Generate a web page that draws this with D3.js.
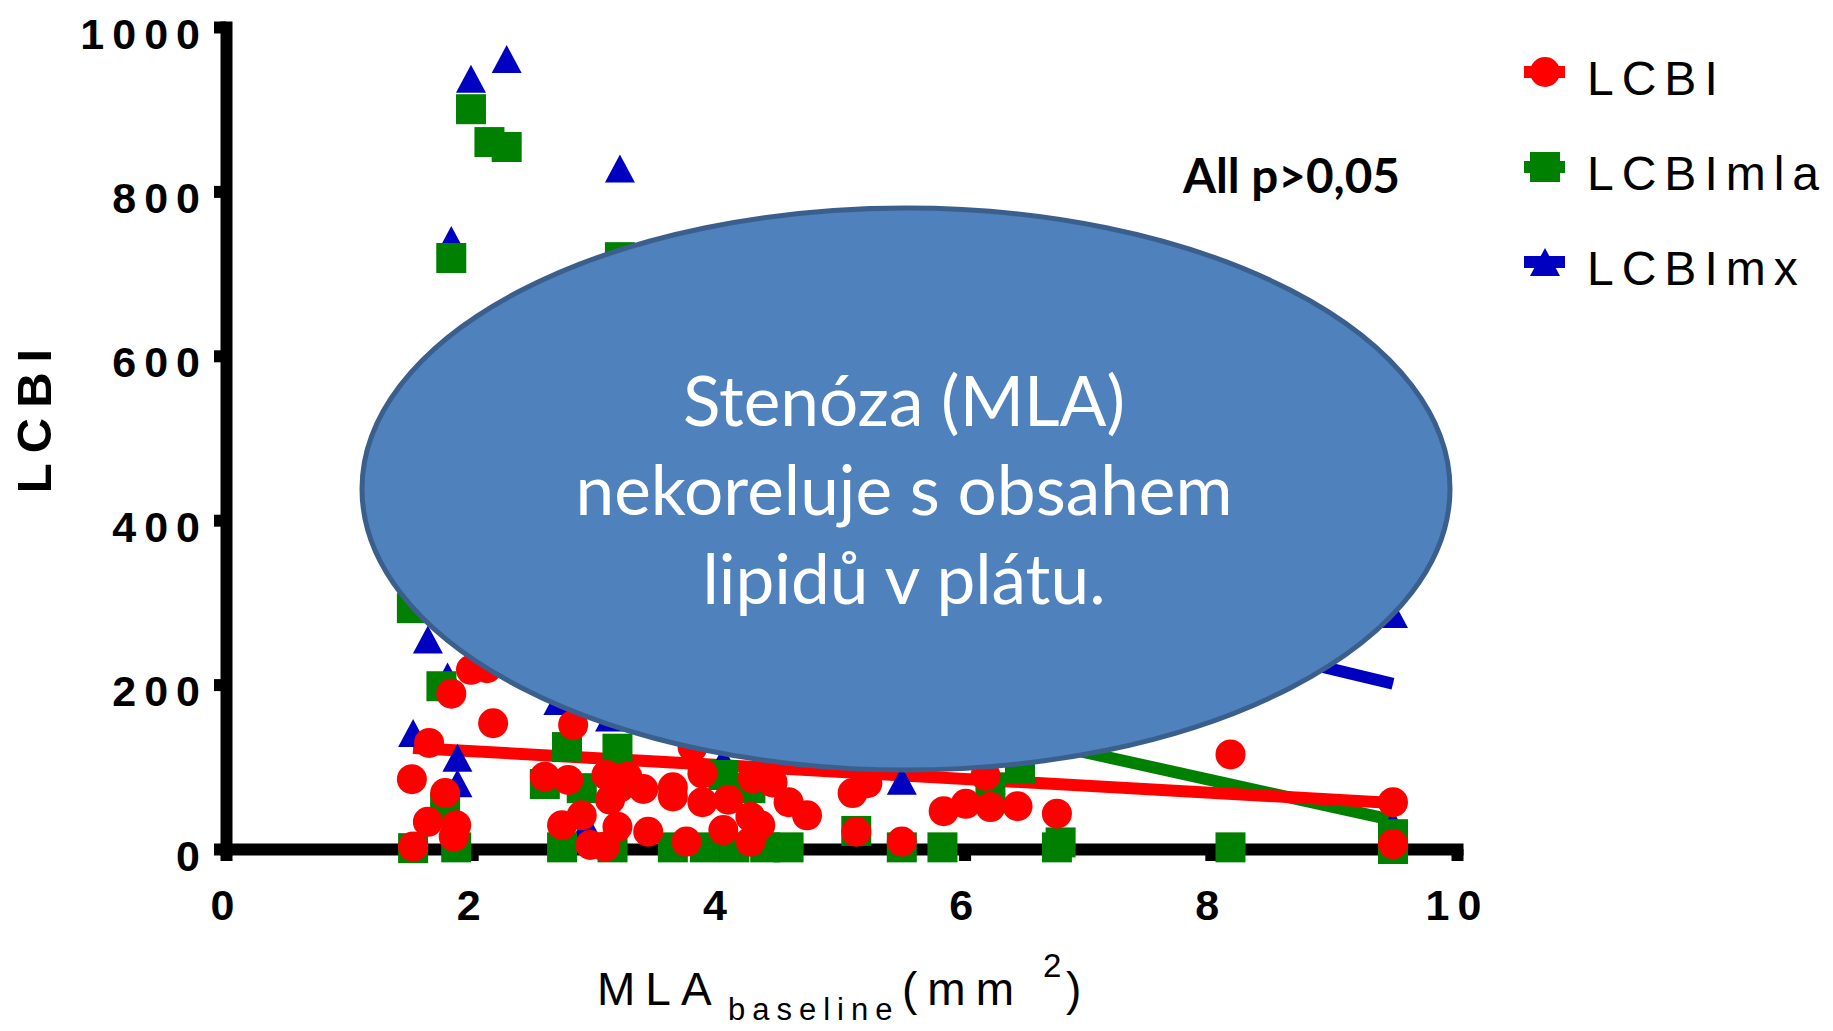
<!DOCTYPE html>
<html>
<head>
<meta charset="utf-8">
<script src="https://cdn.jsdelivr.net/npm/d3@7"></script>
<style>
  body { margin: 0; background: #fff; }
  svg { display: block; }
</style>
</head>
<body>
<svg id="chart" width="1833" height="1031"></svg>
<script>
// ---- data ----
const xTicks = [0, 2, 4, 6, 8, 10];
const yTicks = [0, 200, 400, 600, 800, 1000];
const seriesNames = ["LCBI", "LCBImla", "LCBImx"];
const seriesColors = ["#ff0000", "#008000", "#0000c0"];

// LCBI (red circles)
const lcbi = [
  [1.52, 3], [1.51, 85], [1.65, 129], [1.64, 33], [1.78, 68], [1.85, 15], [1.87, 29],
  [1.83, 189], [1.99, 218], [2.12, 220], [2.17, 153],
  [2.82, 151], [2.59, 88], [2.78, 84], [3.09, 90], [3.26, 88], [3.39, 73], [3.12, 60],
  [2.89, 41], [2.73, 29], [3.18, 27], [2.96, 5], [3.08, 3], [3.43, 21], [3.2, 75],
  [3.79, 124], [3.63, 75], [3.63, 64], [3.87, 92], [3.87, 57], [4.08, 60], [4.28, 86],
  [4.44, 81], [4.57, 57], [4.72, 41], [4.04, 23], [4.26, 39], [4.34, 29], [4.26, 9], [3.74, 9],
  [5.09, 68], [5.21, 80], [5.12, 21],
  [5.49, 9], [5.83, 46], [6.01, 55], [6.21, 51], [6.43, 52], [6.17, 89], [6.75, 43],
  [8.16, 115], [9.48, 57], [9.48, 6]
];
// LCBImla (green squares)
const lcbiMla = [
  [1.99, 900], [2.14, 860], [2.28, 854], [3.2, 720], [1.83, 719], [1.51, 293], [1.75, 198],
  [1.78, 50], [1.52, 1], [1.87, 2],
  [2.77, 124], [3.18, 122], [2.59, 79], [2.89, 74], [2.73, 2], [3.14, 2],
  [4.04, 90], [4.26, 74], [3.63, 2], [3.89, 2], [4.13, 2], [4.38, 2], [4.57, 2], [5.12, 22],
  [5.49, 2], [5.82, 2], [6.21, 75], [6.45, 98], [6.75, 2], [6.78, 8], [8.16, 2],
  [9.48, 18], [9.48, 0]
];
// LCBImx (blue triangles)
const lcbiMx = [
  [2.28, 961], [1.99, 937], [3.2, 828], [1.83, 741], [1.64, 255], [1.52, 141], [1.88, 111],
  [1.88, 80], [1.8, 210], [2.7, 180], [3.12, 160], [2.93, 28], [4.04, 108], [5.49, 83],
  [9.48, 286], [9.48, 30]
];

// linear fits, value at each end of fitX
const fitX = [1.52, 9.48];
const fitLcbi = [123, 56];
const fitMla = [298, 35];
const fitMx = [487, 201];

const noteLines = ["Stenóza (MLA)", "nekoreluje s obsahem", "lipidů v plátu."];
const pNote = "All p>0,05";

// ---- drawing ----
const svg = d3.select("#chart");
const arial = "'Liberation Sans', Arial, sans-serif";
const calib = "Lato, 'Open Sans', sans-serif";

svg.append("rect").attr("width", 1833).attr("height", 1031).attr("fill", "#fff");

const x = d3.scaleLinear().domain([0, 10]).range([226, 1457]);
const y = d3.scaleLinear().domain([0, 1000]).range([849, 27]);

// axes
const yAxis = svg.append("g")
  .attr("transform", "translate(" + x(0) + ",0)")
  .call(d3.axisLeft(y).tickValues(yTicks).tickFormat(d3.format("d"))
    .tickSizeInner(12).tickSizeOuter(0).tickPadding(6));
const xAxis = svg.append("g")
  .attr("transform", "translate(0," + y(0) + ")")
  .call(d3.axisBottom(x).tickValues(xTicks).tickFormat(d3.format("d"))
    .tickSizeInner(12).tickSizeOuter(0).tickPadding(28));

[yAxis, xAxis].forEach(function(ax) {
  ax.select(".domain").attr("stroke", "#000").attr("stroke-width", 12).attr("stroke-linecap", "square");
  ax.selectAll(".tick line").attr("stroke", "#000").attr("stroke-width", 12);
  ax.selectAll(".tick text")
    .attr("fill", "#000")
    .attr("font-family", arial)
    .attr("font-weight", "bold")
    .attr("font-size", 43)
    .attr("letter-spacing", 8);
});
yAxis.selectAll(".tick text").attr("dy", "0.49em").attr("x", -18);

// axis titles
svg.append("text")
  .attr("transform", "translate(51,416) rotate(-90)")
  .attr("text-anchor", "middle")
  .attr("font-family", arial)
  .attr("font-weight", "bold")
  .attr("font-size", 49)
  .attr("letter-spacing", 10)
  .text("LCBI");

const xt = svg.append("text").attr("font-family", arial).attr("fill", "#000");
xt.append("tspan").attr("x", 597).attr("y", 1005).attr("font-size", 46).attr("letter-spacing", 10).text("MLA");
xt.append("tspan").attr("x", 728).attr("y", 1020).attr("font-size", 31).attr("letter-spacing", 7).text("baseline");
xt.append("tspan").attr("x", 902).attr("y", 1005).attr("font-size", 46).attr("letter-spacing", 10).text("(mm");
xt.append("tspan").attr("x", 1043).attr("y", 977).attr("font-size", 33).text("2");
xt.append("tspan").attr("x", 1066).attr("y", 1005).attr("font-size", 46).text(")");

// fit lines
const fits = [fitLcbi, fitMla, fitMx];
const plot = svg.append("g");
[1, 2, 0].forEach(function(i) {
  plot.append("line")
    .attr("x1", x(fitX[0])).attr("y1", y(fits[i][0]))
    .attr("x2", x(fitX[1])).attr("y2", y(fits[i][1]))
    .attr("stroke", seriesColors[i])
    .attr("stroke-width", 12);
});

// marker shapes
const triPath = "M0,-14L15,14L-15,14Z";
const sqPath = d3.symbol().type(d3.symbolSquare).size(900)();
const circPath = d3.symbol().type(d3.symbolCircle).size(Math.PI * 15 * 15)();
const shapes = [circPath, sqPath, triPath];

function drawPoints(data, i) {
  plot.append("g").selectAll("path")
    .data(data)
    .join("path")
    .attr("d", shapes[i])
    .attr("transform", function(d) { return "translate(" + x(d[0]) + "," + y(d[1]) + ")"; })
    .attr("fill", seriesColors[i]);
}
drawPoints(lcbiMx, 2);
drawPoints(lcbiMla, 1);
drawPoints(lcbi, 0);

// legend
const legend = svg.append("g");
seriesNames.forEach(function(name, i) {
  const ly = 72 + i * 95;
  legend.append("line")
    .attr("x1", 1524).attr("x2", 1565).attr("y1", ly).attr("y2", ly)
    .attr("stroke", seriesColors[i]).attr("stroke-width", 12);
  legend.append("path")
    .attr("d", shapes[i])
    .attr("transform", "translate(1545," + ly + ")")
    .attr("fill", seriesColors[i]);
  legend.append("text")
    .attr("x", 1587).attr("y", ly + 23)
    .attr("font-family", arial)
    .attr("font-size", 48)
    .attr("letter-spacing", 8)
    .text(name);
});

// p note
const pText = svg.append("text")
  .attr("x", 1183).attr("y", 193)
  .attr("font-family", calib)
  .attr("font-weight", "bold")
  .attr("font-size", 40)
  .text(pNote);
fitWidth(pText, 217);

// callout ellipse
svg.append("ellipse")
  .attr("cx", 906).attr("cy", 489)
  .attr("rx", 544).attr("ry", 281)
  .attr("fill", "#4f81bd")
  .attr("stroke", "#3b5f8c")
  .attr("stroke-width", 5);

const noteG = svg.append("g");
const noteTexts = noteLines.map(function(t, i) {
  return noteG.append("text")
    .attr("x", 904).attr("y", 426 + i * 89)
    .attr("text-anchor", "middle")
    .attr("font-family", calib)
    .attr("font-size", 64)
    .attr("fill", "#fff")
    .text(t);
});
const w2 = noteTexts[1].node().getComputedTextLength();
const noteSize = 64 * 657 / w2;
noteTexts.forEach(function(t) { t.attr("font-size", noteSize); });

function fitWidth(sel, width) {
  const w = sel.node().getComputedTextLength();
  const fs = parseFloat(sel.attr("font-size"));
  sel.attr("font-size", fs * width / w);
}
</script>
</body>
</html>
